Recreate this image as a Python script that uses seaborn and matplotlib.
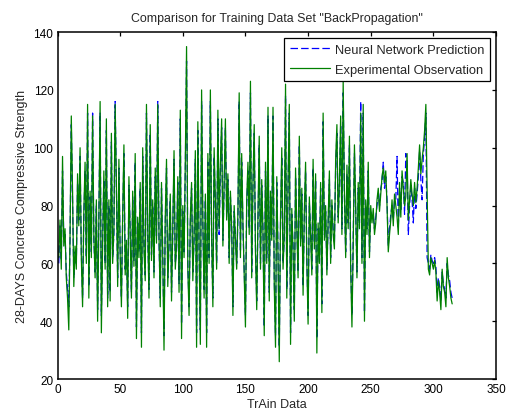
import numpy as np
import pandas as pd
import matplotlib
matplotlib.use("Agg")
import matplotlib.pyplot as plt
import seaborn as sns

experimental = [
    62, 75, 58, 97, 66, 72, 55, 48, 37, 70,
    111, 85, 52, 66, 58, 91, 73, 100, 62, 45,
    78, 95, 60, 115, 48, 85, 62, 111, 70, 55,
    82, 40, 74, 116, 36, 67, 92, 58, 110, 45,
    82, 47, 105, 60, 72, 115, 88, 52, 96, 63,
    45, 77, 101, 56, 68, 41, 90, 70, 48, 85,
    59, 98, 34, 76, 62, 88, 31, 100, 65, 54,
    115, 72, 48, 108, 61, 82, 55, 93, 67, 115,
    70, 45, 88, 62, 30, 76, 96, 52, 68, 84,
    47, 72, 99, 58, 66, 90, 50, 113, 34, 80,
    62, 95, 135, 58, 42, 76, 88, 54, 70, 99,
    31, 109, 66, 32, 120, 75, 48, 84, 31, 98,
    60, 120, 70, 45, 100, 82, 58, 113, 72, 95,
    110, 66, 88, 110, 75, 91, 60, 85, 72, 42,
    80, 68, 58, 78, 119, 62, 98, 74, 56, 38,
    82, 95, 70, 123, 55, 88, 108, 64, 44, 77,
    104, 58, 89, 70, 35, 95, 60, 114, 47, 85,
    68, 114, 52, 31, 90, 62, 26, 76, 100, 58,
    70, 122, 48, 88, 115, 32, 79, 64, 40, 93,
    72, 55, 104, 66, 86, 49, 78, 95, 60, 39,
    83, 70, 56, 96, 65, 91, 29, 74, 60, 88,
    43, 112, 68, 80, 56, 75, 92, 60, 82, 70,
    65, 96, 108, 74, 88, 111, 70, 123, 85, 62,
    94, 72, 104, 58, 38, 66, 101, 80, 55, 88,
    72, 112, 60, 115, 40, 82, 70, 95, 62, 80,
    74, 79, 70, 74, 82, 86, 78, 84, 90, 93, 88,
    92, 80, 64, 70, 75, 82, 73, 84, 80, 76,
    70, 88, 76, 92, 86, 80, 83, 98, 75, 82, 89,
    84, 80, 88, 81, 86, 93, 101, 91, 96, 100, 106, 115,
    85, 58, 56, 62, 60, 58, 61, 57, 47, 54,
    50, 44, 58, 52, 50, 45, 62, 55, 52, 48, 46,
]

predicted = [
    60, 73, 61, 92, 68, 70, 57, 51, 45, 68,
    108, 82, 55, 64, 60, 88, 75, 97, 64, 48,
    76, 92, 62, 112, 52, 83, 64, 112, 68, 57,
    80, 44, 76, 112, 42, 69, 89, 60, 106, 48,
    80, 50, 102, 62, 70, 116, 86, 55, 93, 65,
    48, 75, 98, 58, 66, 45, 87, 72, 50, 83,
    61, 95, 38, 74, 64, 86, 36, 97, 67, 56,
    112, 70, 51, 105, 63, 80, 57, 90, 69, 116,
    68, 48, 86, 64, 35, 74, 93, 55, 66, 82,
    50, 70, 96, 60, 64, 88, 53, 110, 39, 78,
    64, 92, 130, 60, 45, 74, 86, 57, 68, 96,
    36, 106, 64, 37, 116, 73, 51, 82, 36, 95,
    62, 116, 68, 48, 97, 80, 60, 110, 70, 92,
    107, 68, 86, 107, 77, 89, 62, 83, 74, 45,
    78, 70, 60, 76, 116, 64, 95, 72, 58, 42,
    80, 92, 72, 119, 57, 86, 105, 66, 47, 75,
    101, 60, 87, 72, 38, 92, 62, 111, 50, 83,
    70, 111, 55, 35, 88, 64, 31, 74, 97, 60,
    68, 118, 51, 86, 112, 36, 77, 66, 44, 90,
    74, 57, 101, 68, 84, 52, 76, 92, 62, 42,
    81, 72, 58, 93, 67, 89, 34, 72, 62, 86,
    46, 109, 70, 78, 58, 73, 89, 62, 80, 72,
    67, 93, 105, 76, 86, 108, 72, 119, 83, 64,
    91, 74, 101, 60, 42, 68, 98, 78, 57, 86,
    74, 116, 62, 112, 43, 80, 72, 92, 64, 78,
    76, 77, 72, 76, 80, 84, 80, 86, 88, 95, 86,
    90, 82, 66, 72, 77, 80, 75, 82, 82, 97,
    72, 86, 78, 90, 88, 77, 98, 96, 70, 80, 87,
    82, 74, 86, 79, 84, 90, 99, 89, 82, 98, 103, 112,
    62, 60, 58, 63, 61, 60, 62, 59, 50, 55,
    52, 47, 57, 53, 51, 48, 60, 56, 54, 50, 48,
]

sample = list(range(1, len(experimental) + 1))

x_ticks = [0, 50, 100, 150, 200, 250, 300, 350]
y_ticks = [20, 40, 60, 80, 100, 120, 140]

df = pd.DataFrame({"sample": sample, "predicted": predicted, "experimental": experimental})

sns.set_style("white")
plt.rcParams["font.family"] = ["Liberation Sans", "DejaVu Sans"]
plt.rcParams["xtick.direction"] = "in"
plt.rcParams["ytick.direction"] = "in"

fig = plt.figure(figsize=(5.09, 4.14), dpi=100)
ax = fig.add_axes([0.113, 0.082, 0.8615, 0.838])

sns.lineplot(data=df, x="sample", y="predicted", ax=ax, color="#0000ff",
             linewidth=0.9, dashes=False, estimator=None,
             label="Neural Network Prediction")
ax.lines[-1].set_dashes([6, 2.5])
sns.lineplot(data=df, x="sample", y="experimental", ax=ax, color="#008000",
             linewidth=0.9, estimator=None, label="Experimental Observation")

ax.set_xlim(0, 350)
ax.set_ylim(20, 140)
ax.set_xticks(x_ticks)
ax.set_yticks(y_ticks)
ax.tick_params(axis="both", which="both", direction="in", top=True, right=True,
               length=3, width=0.9, labelsize=8.5, colors="black", pad=3)
for s in ax.spines.values():
    s.set_visible(True)
    s.set_color("black")
    s.set_linewidth(1.1)

ax.set_title('Comparison for Training Data Set "BackPropagation"', fontsize=8.9, pad=8)
ax.set_xlabel("TrAin Data", fontsize=9, labelpad=2)
ax.set_ylabel("28-DAYS Concrete Compressive Strength", fontsize=9, labelpad=4)

leg = ax.legend(loc="upper right", fontsize=9.3, frameon=True, fancybox=False,
                framealpha=1, edgecolor="black", borderaxespad=0.45,
                handlelength=3.1, handletextpad=0.4, borderpad=0.45,
                labelspacing=0.6)
leg.get_frame().set_linewidth(0.9)

fig.savefig("out.png", dpi=100)
